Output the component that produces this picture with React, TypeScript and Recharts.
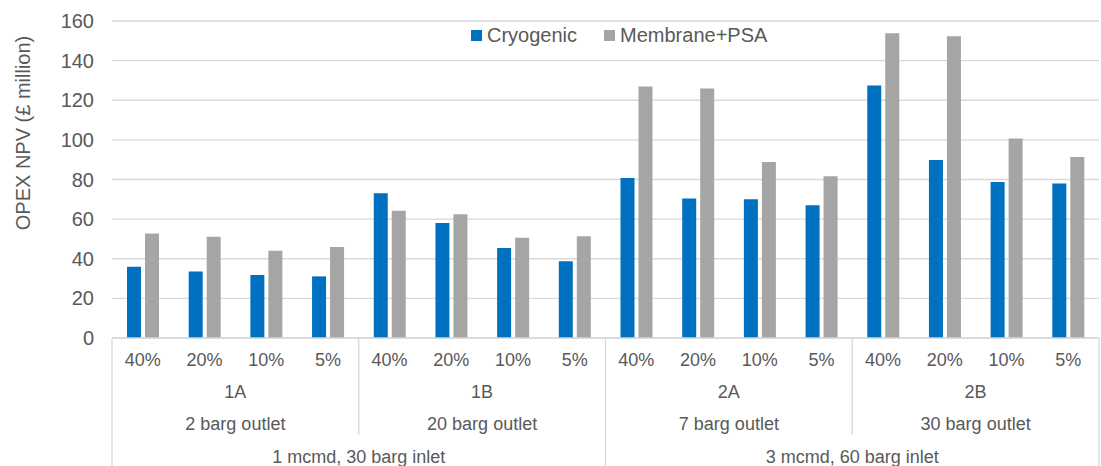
import { Bar, BarChart, CartesianGrid, Legend, XAxis, YAxis } from 'recharts'

const pctLabels = ['40%', '20%', '10%', '5%', '40%', '20%', '10%', '5%', '40%', '20%', '10%', '5%', '40%', '20%', '10%', '5%']
const caseLabels = ['1A', '1B', '2A', '2B']
const outletLabels = ['2 barg outlet', '20 barg outlet', '7 barg outlet', '30 barg outlet']
const inletLabels = ['1 mcmd, 30 barg inlet', '3 mcmd, 60 barg inlet']
const cryogenic = [36, 33.6, 31.8, 31.1, 73, 58.1, 45.4, 38.8, 80.8, 70.4, 70, 67, 127.4, 89.8, 78.7, 78]
const membranePsa = [52.8, 51.1, 44, 45.9, 64.2, 62.5, 50.6, 51.4, 127, 125.9, 88.8, 81.7, 153.8, 152.3, 100.7, 91.4]
const yTicks = [0, 20, 40, 60, 80, 100, 120, 140, 160]

const data = pctLabels.map((pct, i) => ({
  key: i,
  pct,
  cryo: cryogenic[i],
  memb: membranePsa[i],
}))

const W = 1101
const H = 466
const Y_W = 112
const RIGHT = 2
const X_H = 128
const band = (W - Y_W - RIGHT) / pctLabels.length
const FONT = '"Liberation Sans", Arial, sans-serif'
const TXT = '#595959'
const LINE = '#D9D9D9'

function XTick(props: any) {
  const { x, y, payload } = props
  const i = payload.index as number
  const left = x - band / 2
  return (
    <g>
      <text x={x} y={y + 22} textAnchor="middle" dominantBaseline="central" fill={TXT} fontSize={18} fontFamily={FONT}>
        {pctLabels[i]}
      </text>
      {i % 4 === 0 && (
        <>
          <line x1={left} y1={y} x2={left} y2={i % 8 === 0 ? H : y + 97} stroke={LINE} strokeWidth={1.3} />
          <text x={left + band * 2} y={y + 54} textAnchor="middle" dominantBaseline="central" fill={TXT} fontSize={18} fontFamily={FONT}>
            {caseLabels[i / 4]}
          </text>
          <text x={left + band * 2} y={y + 86} textAnchor="middle" dominantBaseline="central" fill={TXT} fontSize={18} fontFamily={FONT}>
            {outletLabels[i / 4]}
          </text>
        </>
      )}
      {i % 8 === 0 && (
        <text x={left + band * 4} y={y + 119} textAnchor="middle" dominantBaseline="central" fill={TXT} fontSize={18} fontFamily={FONT}>
          {inletLabels[i / 8]}
        </text>
      )}
      {i === pctLabels.length - 1 && (
        <line x1={x + band / 2} y1={y} x2={x + band / 2} y2={H} stroke={LINE} strokeWidth={1.3} />
      )}
    </g>
  )
}

function LegendContent(props: any) {
  const items = props.payload || []
  return (
    <div style={{ display: 'flex', alignItems: 'center', fontFamily: FONT, fontSize: 20, color: TXT }}>
      {items.map((it: any, idx: number) => (
        <div key={it.value} style={{ display: 'flex', alignItems: 'center', marginRight: idx === 0 ? 27 : 0 }}>
          <span style={{ width: 11, height: 11, background: it.color, marginRight: 5, display: 'inline-block' }} />
          <span>{it.value}</span>
        </div>
      ))}
    </div>
  )
}

export default function App() {
  return (
    <div style={{ position: 'absolute', left: 0, top: 0, width: W, height: H, background: '#fff' }}>
      <BarChart width={W} height={H} data={data} margin={{ top: 21, right: RIGHT, left: 0, bottom: 0 }} barSize={14} barGap={4}>
        <CartesianGrid stroke={LINE} strokeWidth={1.3} vertical={false} />
        <XAxis
          dataKey="key"
          interval={0}
          height={X_H}
          tickSize={0}
          tickMargin={0}
          tickLine={false}
          axisLine={{ stroke: LINE, strokeWidth: 1.3 }}
          tick={<XTick />}
        />
        <YAxis
          width={Y_W}
          domain={[0, 160]}
          ticks={yTicks}
          axisLine={false}
          tickLine={false}
          tickMargin={12}
          tick={{ fill: TXT, fontSize: 20, fontFamily: FONT }}
          label={{
            content: () => (
              <text x={23} y={133} transform="rotate(-90, 23, 133)" textAnchor="middle" dominantBaseline="central" fill={TXT} fontSize={20} fontFamily={FONT}>
                OPEX NPV (£ million)
              </text>
            ),
          }}
        />
        <Legend
          layout="horizontal"
          verticalAlign="middle"
          align="center"
          content={<LegendContent />}
          wrapperStyle={{ position: 'absolute', top: 24, left: 471, width: 'auto' }}
        />
        <Bar dataKey="cryo" name="Cryogenic" fill="#0070C0" isAnimationActive={false} />
        <Bar dataKey="memb" name="Membrane+PSA" fill="#A5A5A5" isAnimationActive={false} />
      </BarChart>
    </div>
  )
}
